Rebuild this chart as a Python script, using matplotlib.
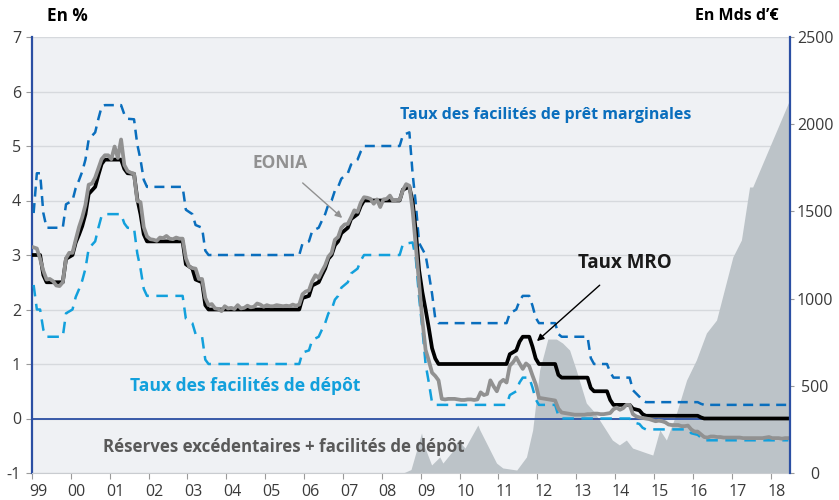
import matplotlib
matplotlib.use("Agg")
import matplotlib.pyplot as plt
from matplotlib.transforms import ScaledTranslation
import numpy as np

plt.rcParams['font.family'] = ['Open Sans', 'DejaVu Sans']

# ---------------- data ----------------
# Policy rates (monthly averages, vertices at change months), in %
mro_dates = ["1999-01", "1999-03", "1999-04", "1999-05", "1999-10", "1999-11", "2000-01", "2000-02",
             "2000-03", "2000-04", "2000-05", "2000-06", "2000-08", "2000-09", "2000-10", "2000-11",
             "2001-04", "2001-05", "2001-06", "2001-08", "2001-09", "2001-10", "2001-11", "2001-12",
             "2002-11", "2002-12", "2003-02", "2003-03", "2003-05", "2003-06", "2003-07", "2005-11",
             "2005-12", "2006-02", "2006-03", "2006-05", "2006-06", "2006-07", "2006-08", "2006-09",
             "2006-10", "2006-11", "2006-12", "2007-02", "2007-03", "2007-05", "2007-06", "2007-07",
             "2008-06", "2008-07", "2008-09", "2008-10", "2008-11", "2008-12", "2009-01", "2009-02",
             "2009-03", "2009-04", "2009-05", "2009-06", "2011-03", "2011-04", "2011-06", "2011-07",
             "2011-08", "2011-10", "2011-11", "2011-12", "2012-01", "2012-06", "2012-07", "2012-08",
             "2013-04", "2013-05", "2013-06", "2013-10", "2013-11", "2013-12", "2014-05", "2014-06",
             "2014-08", "2014-09", "2014-10", "2016-02", "2016-03", "2016-04", "2018-06"]
mro_vals = [3.0, 3.0, 2.63, 2.5, 2.5, 2.93, 3.0, 3.23,
            3.37, 3.53, 3.75, 4.12, 4.25, 4.47, 4.67, 4.75,
            4.75, 4.58, 4.5, 4.49, 4.03, 3.75, 3.38, 3.25,
            3.25, 2.83, 2.75, 2.55, 2.5, 2.08, 2.0, 2.0,
            2.21, 2.25, 2.44, 2.5, 2.63, 2.75, 2.93, 3.0,
            3.18, 3.25, 3.40, 3.5, 3.66, 3.75, 3.90, 4.0,
            4.0, 4.20, 4.25, 3.98, 3.43, 2.72, 2.32, 2.0,
            1.66, 1.29, 1.10, 1.0, 1.0, 1.18, 1.25, 1.41,
            1.5, 1.5, 1.32, 1.10, 1.0, 1.0, 0.80, 0.75,
            0.75, 0.56, 0.5, 0.5, 0.34, 0.25, 0.25, 0.18,
            0.15, 0.08, 0.05, 0.05, 0.02, 0.0, 0.0]

mlf_dates = ["1999-01", "1999-02", "1999-03", "1999-04", "1999-05", "1999-10", "1999-11", "2000-01",
             "2000-02", "2000-03", "2000-04", "2000-05", "2000-06", "2000-08", "2000-09", "2000-10",
             "2000-11", "2001-04", "2001-05", "2001-06", "2001-08", "2001-09", "2001-10", "2001-11",
             "2001-12", "2002-11", "2002-12", "2003-02", "2003-03", "2003-05", "2003-06", "2003-07",
             "2005-11", "2005-12", "2006-02", "2006-03", "2006-05", "2006-06", "2006-07", "2006-08",
             "2006-09", "2006-10", "2006-11", "2006-12", "2007-02", "2007-03", "2007-05", "2007-06",
             "2007-07", "2008-06", "2008-07", "2008-09", "2008-10", "2008-11", "2008-12", "2009-02",
             "2009-03", "2009-04", "2009-05", "2009-06", "2011-03", "2011-04", "2011-06", "2011-07",
             "2011-08", "2011-10", "2011-11", "2011-12", "2012-01", "2012-06", "2012-07", "2012-08",
             "2013-04", "2013-05", "2013-06", "2013-10", "2013-11", "2013-12", "2014-05", "2014-06",
             "2014-08", "2014-09", "2014-10", "2016-02", "2016-03", "2016-04", "2018-06"]
mlf_vals = [3.77, 4.5, 4.5, 3.77, 3.5, 3.5, 3.93, 4.0,
            4.23, 4.37, 4.53, 4.75, 5.12, 5.25, 5.5, 5.72,
            5.75, 5.75, 5.58, 5.5, 5.49, 5.03, 4.75, 4.38,
            4.25, 4.25, 3.83, 3.75, 3.55, 3.5, 3.08, 3.0,
            3.0, 3.21, 3.25, 3.44, 3.5, 3.63, 3.75, 3.93,
            4.0, 4.18, 4.25, 4.40, 4.5, 4.66, 4.75, 4.90,
            5.0, 5.0, 5.20, 5.25, 4.49, 3.93, 3.22, 3.0,
            2.66, 2.29, 1.83, 1.75, 1.75, 1.93, 2.0, 2.16,
            2.25, 2.25, 2.07, 1.85, 1.75, 1.75, 1.55, 1.5,
            1.5, 1.11, 1.0, 1.0, 0.85, 0.75, 0.75, 0.52,
            0.40, 0.33, 0.30, 0.30, 0.27, 0.25, 0.25]

dep_dates = ["1999-01", "1999-02", "1999-03", "1999-04", "1999-05", "1999-10", "1999-11", "2000-01",
             "2000-02", "2000-03", "2000-04", "2000-05", "2000-06", "2000-08", "2000-09", "2000-10",
             "2000-11", "2001-04", "2001-05", "2001-06", "2001-08", "2001-09", "2001-10", "2001-11",
             "2001-12", "2002-11", "2002-12", "2003-02", "2003-03", "2003-05", "2003-06", "2003-07",
             "2005-11", "2005-12", "2006-02", "2006-03", "2006-05", "2006-06", "2006-07", "2006-08",
             "2006-09", "2006-10", "2006-11", "2006-12", "2007-02", "2007-03", "2007-05", "2007-06",
             "2007-07", "2008-06", "2008-07", "2008-10", "2008-11", "2008-12", "2009-01", "2009-02",
             "2009-03", "2009-04", "2009-05", "2011-03", "2011-04", "2011-06", "2011-07", "2011-08",
             "2011-10", "2011-11", "2011-12", "2012-01", "2012-06", "2012-07", "2012-08", "2014-05",
             "2014-06", "2014-08", "2014-09", "2014-10", "2015-11", "2015-12", "2016-02", "2016-03",
             "2016-04", "2018-06"]
dep_vals = [2.45, 2.0, 2.0, 1.63, 1.5, 1.5, 1.93, 2.0,
            2.23, 2.37, 2.53, 2.75, 3.12, 3.25, 3.5, 3.72,
            3.75, 3.75, 3.58, 3.5, 3.49, 3.03, 2.75, 2.38,
            2.25, 2.25, 1.83, 1.75, 1.55, 1.5, 1.08, 1.0,
            1.0, 1.21, 1.25, 1.44, 1.5, 1.63, 1.75, 1.93,
            2.0, 2.18, 2.25, 2.40, 2.5, 2.66, 2.75, 2.90,
            3.0, 3.0, 3.20, 3.23, 2.93, 2.22, 1.65, 1.0,
            0.66, 0.29, 0.25, 0.25, 0.43, 0.5, 0.66, 0.75,
            0.75, 0.57, 0.35, 0.25, 0.25, 0.05, 0.0, 0.0,
            -0.07, -0.10, -0.17, -0.20, -0.20, -0.27, -0.30, -0.35,
            -0.40, -0.40]

# EONIA monthly averages, Jan 1999 - Jun 2018 (%)
eonia_start = "1999-01"
eonia = [
    3.14, 3.12, 2.93, 2.71, 2.55, 2.56, 2.52, 2.44, 2.43, 2.50, 2.94, 3.04,   # 1999
    3.04, 3.28, 3.51, 3.69, 3.92, 4.29, 4.31, 4.42, 4.59, 4.76, 4.83, 4.83,   # 2000
    4.76, 4.99, 4.78, 5.12, 4.65, 4.54, 4.51, 4.49, 3.99, 3.97, 3.51, 3.34,   # 2001
    3.29, 3.28, 3.26, 3.32, 3.31, 3.35, 3.30, 3.29, 3.32, 3.30, 3.30, 2.94,   # 2002
    2.79, 2.76, 2.75, 2.56, 2.56, 2.21, 2.08, 2.10, 2.02, 2.01, 1.97, 2.06,   # 2003
    2.02, 2.03, 2.01, 2.08, 2.02, 2.03, 2.07, 2.04, 2.05, 2.11, 2.09, 2.05,   # 2004
    2.08, 2.06, 2.06, 2.08, 2.07, 2.06, 2.07, 2.06, 2.09, 2.07, 2.09, 2.28,   # 2005
    2.33, 2.35, 2.52, 2.63, 2.58, 2.70, 2.81, 2.97, 3.04, 3.28, 3.33, 3.50,   # 2006
    3.56, 3.57, 3.69, 3.82, 3.79, 3.96, 4.06, 4.05, 4.03, 3.94, 4.02, 3.88,   # 2007
    4.02, 4.03, 4.09, 3.99, 4.01, 4.01, 4.19, 4.30, 4.27, 3.82, 3.15, 2.49,   # 2008
    1.81, 1.26, 1.06, 0.84, 0.78, 0.70, 0.36, 0.35, 0.36, 0.36, 0.36, 0.35,   # 2009
    0.34, 0.34, 0.35, 0.35, 0.34, 0.35, 0.48, 0.43, 0.45, 0.70, 0.59, 0.50,   # 2010
    0.66, 0.71, 0.66, 0.97, 1.03, 1.12, 1.01, 0.91, 1.01, 0.96, 0.79, 0.63,   # 2011
    0.38, 0.37, 0.36, 0.35, 0.34, 0.33, 0.18, 0.11, 0.10, 0.09, 0.08, 0.07,   # 2012
    0.07, 0.07, 0.07, 0.08, 0.08, 0.09, 0.09, 0.08, 0.08, 0.09, 0.10, 0.17,   # 2013
    0.20, 0.16, 0.19, 0.25, 0.25, 0.08, 0.04, 0.02, 0.01, 0.00, -0.01, -0.03, # 2014
    -0.05, -0.04, -0.05, -0.07, -0.11, -0.12, -0.12, -0.12, -0.14, -0.14, -0.13, -0.20,  # 2015
    -0.24, -0.24, -0.29, -0.34, -0.35, -0.33, -0.33, -0.34, -0.34, -0.35, -0.35, -0.35,  # 2016
    -0.35, -0.35, -0.35, -0.36, -0.36, -0.36, -0.36, -0.36, -0.36, -0.36, -0.35, -0.34,  # 2017
    -0.36, -0.36, -0.36, -0.37, -0.36, -0.36,                                           # 2018
]

# Excess reserves + deposit facility (bn EUR), right axis; x in decimal years
res_t = [2008.55, 2008.75, 2009.02, 2009.10, 2009.28, 2009.49, 2009.57, 2009.80, 2009.96, 2010.14,
         2010.47, 2010.52, 2010.95, 2011.11, 2011.47, 2011.72, 2011.88, 2012.06, 2012.27, 2012.49,
         2012.65, 2012.83, 2013.00, 2013.26, 2013.42, 2013.60, 2013.93, 2014.11, 2014.29, 2014.45,
         2014.81, 2014.97, 2015.15, 2015.32, 2015.58, 2015.84, 2016.09, 2016.35, 2016.61, 2017.03,
         2017.25, 2017.46, 2017.54, 2018.49]
res_v = [0, 20, 229, 150, 46, 92, 57, 120, 189, 143,
         275, 247, 57, 29, 17, 92, 247, 591, 768, 768,
         745, 705, 591, 401, 361, 304, 189, 161, 189, 143,
         115, 103, 247, 189, 344, 533, 648, 803, 877, 1239,
         1336, 1640, 1640, 2139]

year_labels = ["99"] + ["%02d" % y for y in range(0, 19)]
left_ticks = [-1, 0, 1, 2, 3, 4, 5, 6, 7]
right_ticks = [0, 500, 1000, 1500, 2000, 2500]

# ---------------- helpers ----------------
def to_t(s):
    y, m = s.split("-")
    return int(y) + (int(m) - 0.5) / 12.0

mro_t = [to_t(d) for d in mro_dates]
mlf_t = [to_t(d) for d in mlf_dates]
dep_t = [to_t(d) for d in dep_dates]
e0 = to_t(eonia_start)
eonia_t = [e0 + i / 12.0 for i in range(len(eonia))]

# ---------------- figure ----------------
W, H = 839, 500
fig = plt.figure(figsize=(W / 100, H / 100), dpi=100)
L, R, T, B = 32, 790, 37, 473
ax = fig.add_axes([L / W, 1 - B / H, (R - L) / W, (B - T) / H])
ax2 = ax.twinx()

bg = "#eff1f4"
ax.set_facecolor(bg)
ax.set_xlim(1999, 2018.5)
ax.set_ylim(-1, 7)
ax2.set_ylim(0, 2500)

ax.set_axisbelow(True)
ax.yaxis.grid(True, color="#d6d9dd", lw=1.0)
ax.xaxis.grid(False)

# filled area (right-axis scale, drawn in ax so it sits below the lines)
ax.fill_between(res_t, res_v, 0, transform=ax2.transData, color="#bcc3c8", lw=0, zorder=1)
ax.set_xlim(1999, 2018.5)
ax.set_ylim(-1, 7)

blue_axis = "#2b4fa3"
ax.axhline(0, color=blue_axis, lw=1.3, zorder=2)

ax.plot(mlf_t, mlf_vals, color="#0a6ebd", lw=1.8, dashes=(4, 2.6), zorder=3)
ax.plot(dep_t, dep_vals, color="#12a0dc", lw=1.8, dashes=(4.6, 3.0), zorder=3)
ax.plot(mro_t, mro_vals, color="black", lw=2.7, zorder=4, solid_joinstyle="round")
ax.plot(eonia_t, eonia, color="#919191", lw=2.7, zorder=5, solid_joinstyle="round")

# spines
ax.spines["top"].set_visible(False)
ax2.spines["top"].set_visible(False)
ax.spines["right"].set_visible(False)
ax2.spines["left"].set_visible(False)
ax2.spines["bottom"].set_visible(False)
ax.spines["left"].set_color(blue_axis)
ax.spines["left"].set_linewidth(1.6)
ax2.spines["right"].set_color(blue_axis)
ax2.spines["right"].set_linewidth(1.6)
ax.spines["bottom"].set_color("#c9ccd0")
ax.spines["bottom"].set_linewidth(0.8)

label_color = "#3a3a3a"
ax.set_yticks(left_ticks)
ax.set_yticklabels([str(v) for v in left_ticks])
ax.tick_params(axis="y", length=4, width=0.8, color="#9a9a9a", pad=4, labelsize=11.5, labelcolor=label_color)

ax.set_xticks(list(range(1999, 2019)))
ax.set_xticklabels(year_labels)
ax.tick_params(axis="x", length=4, width=0.8, color="#9a9a9a", pad=4, labelsize=11.5, labelcolor=label_color)
off = ScaledTranslation(6 / 100, 0, fig.dpi_scale_trans)
for lab in ax.get_xticklabels():
    lab.set_transform(lab.get_transform() + off)

ax2.set_yticks(right_ticks)
ax2.set_yticklabels([str(v) for v in right_ticks])
ax2.tick_params(axis="y", length=3, width=0.8, color="#9a9a9a", pad=15, labelsize=11.5, labelcolor=label_color)
for lab in ax2.get_yticklabels():
    lab.set_horizontalalignment("center")

# titles
fig.text(67 / W, 1 - 16 / H, "En %", ha="center", va="center", fontsize=12.3, fontweight="bold", color="black")
fig.text(737 / W, 1 - 16 / H, "En Mds d’€", ha="center", va="center", fontsize=11.5, fontweight="bold", color="black")

# annotations
ax.text(2008.47, 5.57, "Taux des facilités de prêt marginales", ha="left", va="center",
        fontsize=11.5, fontweight="bold", color="#0a6ebd")
ax.text(2001.52, 0.59, "Taux des facilités de dépôt", ha="left", va="center",
        fontsize=12.6, fontweight="bold", color="#12a0dc")
ax.text(2000.83, -0.53, "Réserves excédentaires + facilités de dépôt", ha="left", va="center",
        fontsize=12.2, fontweight="bold", color="#595959")
ax.annotate("EONIA", xy=(2006.98, 3.68), xytext=(2005.38, 4.69), ha="center", va="center",
            fontsize=12.5, fontweight="bold", color="#919191",
            arrowprops=dict(arrowstyle="-|>", color="#919191", lw=1.0, mutation_scale=10,
                            shrinkA=9, shrinkB=0))
ax.annotate("Taux MRO", xy=(2011.99, 1.42), xytext=(2014.24, 2.85), ha="center", va="center",
            fontsize=13.5, fontweight="bold", color="#1a1a1a",
            arrowprops=dict(arrowstyle="-|>", color="black", lw=1.0, mutation_scale=10,
                            shrinkA=10, shrinkB=0))

fig.savefig("out.png", dpi=100, facecolor="white")
